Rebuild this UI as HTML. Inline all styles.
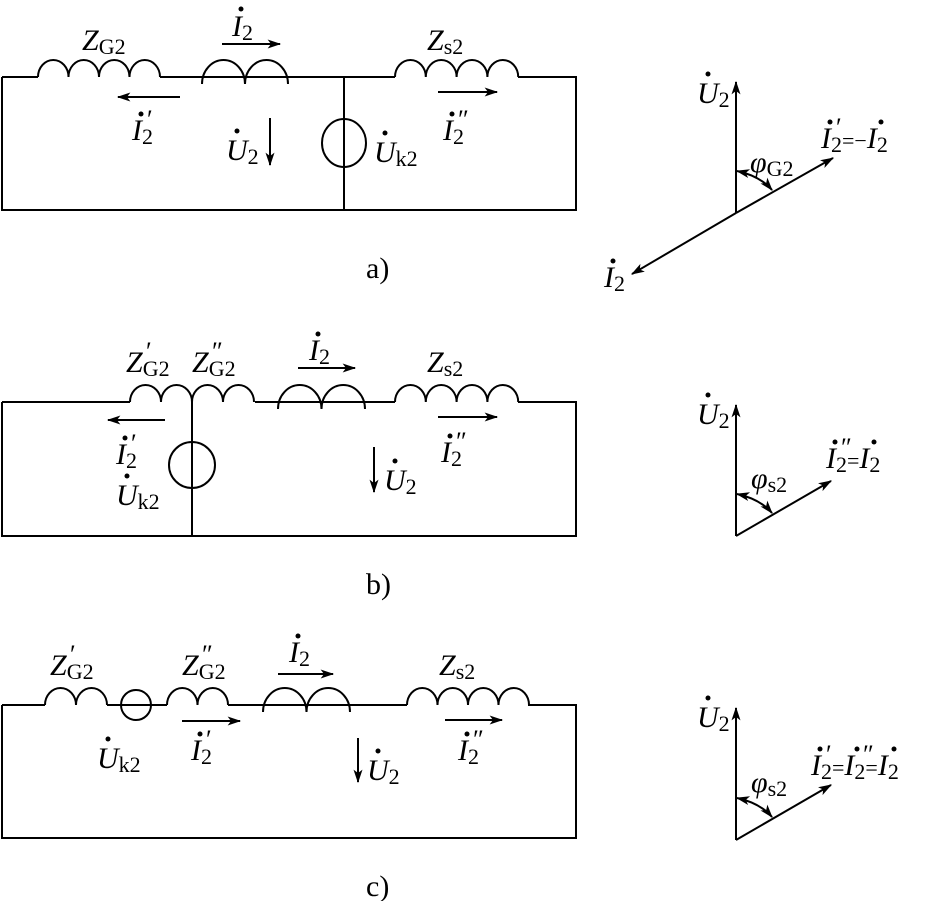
<!DOCTYPE html>
<html><head><meta charset="utf-8"><style>
html,body{margin:0;padding:0;background:#fff;}
svg{display:block;}
text{font-family:"Liberation Serif",serif;font-size:30px;fill:#000;}
.i{font-style:italic;}
.s{font-size:22px;font-style:normal;}
.p{font-size:26px;font-style:normal;}
</style></head><body>
<svg width="926" height="901" viewBox="0 0 926 901" xmlns="http://www.w3.org/2000/svg">
<defs>
<marker id="ar" viewBox="0 0 12 8" refX="11" refY="4" markerWidth="16" markerHeight="9" markerUnits="userSpaceOnUse" orient="auto-start-reverse"><path d="M0 0 L12 4 L0 8 L3 4 Z" fill="#000"/></marker>
</defs>
<g fill="none" stroke="#000" stroke-width="2">
<path d="M2 77 H38 M160 77 H395 M518 77 H576 V210 H2 V77"/>
<path d="M38 77 a15.25 17 0 0 1 30.5 0 a15.25 17 0 0 1 30.5 0 a15.25 17 0 0 1 30.5 0 a15.25 17 0 0 1 30.5 0"/>
<path d="M202 84 a21.5 24 0 0 1 43 0 a21.5 24 0 0 1 43 0"/>
<path d="M395 77 a15.4 17 0 0 1 30.8 0 a15.4 17 0 0 1 30.8 0 a15.4 17 0 0 1 30.8 0 a15.4 17 0 0 1 30.8 0"/>
<path d="M344 77 V210"/>
<ellipse cx="344" cy="143" rx="22" ry="24"/>
<path d="M222 44 H280" marker-end="url(#ar)"/>
<path d="M180 97 H118" marker-end="url(#ar)"/>
<path d="M270 118 V165" marker-end="url(#ar)"/>
<path d="M438 92 H497" marker-end="url(#ar)"/>
<path d="M2 402 H130 M255 402 H395 M518 402 H576 V536 H2 V402"/>
<path d="M130 402 a15.5 17 0 0 1 31 0 a15.5 17 0 0 1 31 0 a15.5 17 0 0 1 31 0 a15.5 17 0 0 1 31 0"/>
<path d="M278 409 a21.75 24 0 0 1 43.5 0 a21.75 24 0 0 1 43.5 0"/>
<path d="M395 402 a15.4 17 0 0 1 30.8 0 a15.4 17 0 0 1 30.8 0 a15.4 17 0 0 1 30.8 0 a15.4 17 0 0 1 30.8 0"/>
<path d="M192 402 V536"/>
<circle cx="192" cy="465" r="23" fill="#fff"/>
<path d="M192 442 V488"/>
<path d="M298 368 H355" marker-end="url(#ar)"/>
<path d="M165 420 H108" marker-end="url(#ar)"/>
<path d="M374 447 V492" marker-end="url(#ar)"/>
<path d="M438 417 H497" marker-end="url(#ar)"/>
<path d="M2 705 H45 M107 705 H167 M228 705 H407 M528 705 H576 V838 H2 V705"/>
<path d="M45 705 a15.5 17 0 0 1 31 0 a15.5 17 0 0 1 31 0"/>
<circle cx="136" cy="705" r="15"/>
<path d="M167 705 a15.25 17 0 0 1 30.5 0 a15.25 17 0 0 1 30.5 0"/>
<path d="M263 712 a21.75 24 0 0 1 43.5 0 a21.75 24 0 0 1 43.5 0"/>
<path d="M407 705 a15.25 17 0 0 1 30.5 0 a15.25 17 0 0 1 30.5 0 a15.25 17 0 0 1 30.5 0 a15.25 17 0 0 1 30.5 0"/>
<path d="M278 674 H333" marker-end="url(#ar)"/>
<path d="M182 721 H240" marker-end="url(#ar)"/>
<path d="M358 738 V782" marker-end="url(#ar)"/>
<path d="M445 720 H502" marker-end="url(#ar)"/>
<path d="M736 213 V82" marker-end="url(#ar)"/>
<path d="M736 213 L833 158" marker-end="url(#ar)"/>
<path d="M736 213 L632 274" marker-end="url(#ar)"/>
<path d="M737 171 Q760 176 772 190" marker-end="url(#ar)" marker-start="url(#ar)"/>
<path d="M736 536 V405" marker-end="url(#ar)"/>
<path d="M736 536 L831 481" marker-end="url(#ar)"/>
<path d="M737 494 Q760 499 772 513" marker-end="url(#ar)" marker-start="url(#ar)"/>
<path d="M736 840 V708" marker-end="url(#ar)"/>
<path d="M736 840 L831 785" marker-end="url(#ar)"/>
<path d="M737 798 Q760 803 772 817" marker-end="url(#ar)" marker-start="url(#ar)"/>
</g>
<g>
<text x="82" y="50" class="i">Z<tspan class="s" dy="4">G2</tspan></text>
<text x="232" y="36" class="i">I<tspan class="s" dy="4">2</tspan></text>
<text x="132" y="140" class="i">I<tspan class="s" dy="4">2</tspan></text><text x="147" y="128" class="p">′</text>
<text x="226" y="160" class="i">U<tspan class="s" dy="4">2</tspan></text>
<text x="374" y="162" class="i">U<tspan class="s" dy="4">k2</tspan></text>
<text x="427" y="50" class="i">Z<tspan class="s" dy="4">s2</tspan></text>
<text x="443" y="140" class="i">I<tspan class="s" dy="4">2</tspan></text><text x="458" y="128" class="p">″</text>
<text x="366" y="278">a)</text>
<text x="126" y="372" class="i">Z<tspan class="s" dy="4">G2</tspan></text>
<text x="146" y="360" class="p">′</text>
<text x="192" y="372" class="i">Z<tspan class="s" dy="4">G2</tspan></text>
<text x="212" y="360" class="p">″</text>
<text x="309" y="360" class="i">I<tspan class="s" dy="4">2</tspan></text>
<text x="116" y="464" class="i">I<tspan class="s" dy="4">2</tspan></text><text x="131" y="452" class="p">′</text>
<text x="116" y="505" class="i">U<tspan class="s" dy="4">k2</tspan></text>
<text x="384" y="490" class="i">U<tspan class="s" dy="4">2</tspan></text>
<text x="427" y="372" class="i">Z<tspan class="s" dy="4">s2</tspan></text>
<text x="441" y="462" class="i">I<tspan class="s" dy="4">2</tspan></text><text x="456" y="450" class="p">″</text>
<text x="366" y="594">b)</text>
<text x="50" y="675" class="i">Z<tspan class="s" dy="4">G2</tspan></text>
<text x="70" y="663" class="p">′</text>
<text x="182" y="675" class="i">Z<tspan class="s" dy="4">G2</tspan></text>
<text x="202" y="663" class="p">″</text>
<text x="289" y="662" class="i">I<tspan class="s" dy="4">2</tspan></text>
<text x="97" y="768" class="i">U<tspan class="s" dy="4">k2</tspan></text>
<text x="191" y="760" class="i">I<tspan class="s" dy="4">2</tspan></text><text x="206" y="748" class="p">′</text>
<text x="367" y="780" class="i">U<tspan class="s" dy="4">2</tspan></text>
<text x="439" y="675" class="i">Z<tspan class="s" dy="4">s2</tspan></text>
<text x="458" y="760" class="i">I<tspan class="s" dy="4">2</tspan></text><text x="473" y="748" class="p">″</text>
<text x="366" y="896">c)</text>
<text x="697" y="103" class="i">U<tspan class="s" dy="4">2</tspan></text>
<text x="750" y="172" class="i">φ<tspan class="s" dy="4">G2</tspan></text>
<text x="821" y="148" class="i">I<tspan class="s" dy="4">2</tspan><tspan class="s" dy="-4">=−</tspan>I<tspan class="s" dy="4">2</tspan></text><text x="836" y="136" class="p">′</text>
<text x="604" y="287" class="i">I<tspan class="s" dy="4">2</tspan></text>
<text x="697" y="424" class="i">U<tspan class="s" dy="4">2</tspan></text>
<text x="751" y="488" class="i">φ<tspan class="s" dy="4">s2</tspan></text>
<text x="826" y="468" class="i">I<tspan class="s" dy="4">2</tspan><tspan class="s" dy="-4">=</tspan>I<tspan class="s" dy="4">2</tspan></text><text x="841" y="456" class="p">″</text>
<text x="697" y="727" class="i">U<tspan class="s" dy="4">2</tspan></text>
<text x="751" y="792" class="i">φ<tspan class="s" dy="4">s2</tspan></text>
<text x="811" y="775" class="i">I<tspan class="s" dy="4">2</tspan><tspan class="s" dy="-4">=</tspan>I<tspan class="s" dy="4">2</tspan><tspan class="s" dy="-4">=</tspan>I<tspan class="s" dy="4">2</tspan></text>
<text x="826" y="763" class="p">′</text><text x="863" y="763" class="p">″</text>
</g>
<g fill="#000">
<circle cx="241" cy="9" r="2.5"/><circle cx="141" cy="114" r="2.5"/><circle cx="452" cy="114" r="2.5"/>
<circle cx="318" cy="334" r="2.5"/><circle cx="125" cy="438" r="2.5"/><circle cx="450" cy="436" r="2.5"/>
<circle cx="298" cy="636" r="2.5"/><circle cx="200" cy="734" r="2.5"/><circle cx="467" cy="734" r="2.5"/>
<circle cx="830" cy="122" r="2.5"/><circle cx="881" cy="122" r="2.5"/><circle cx="613" cy="261" r="2.5"/>
<circle cx="835" cy="442" r="2.5"/><circle cx="874" cy="442" r="2.5"/>
<circle cx="820" cy="749" r="2.5"/><circle cx="857" cy="749" r="2.5"/><circle cx="894" cy="749" r="2.5"/>
<circle cx="237" cy="131" r="2.5"/><circle cx="385" cy="133" r="2.5"/>
<circle cx="127" cy="476" r="2.5"/><circle cx="395" cy="461" r="2.5"/>
<circle cx="108" cy="739" r="2.5"/><circle cx="378" cy="751" r="2.5"/>
<circle cx="708" cy="74" r="2.5"/><circle cx="708" cy="395" r="2.5"/><circle cx="708" cy="698" r="2.5"/>
</g>
</svg>
</body></html>
